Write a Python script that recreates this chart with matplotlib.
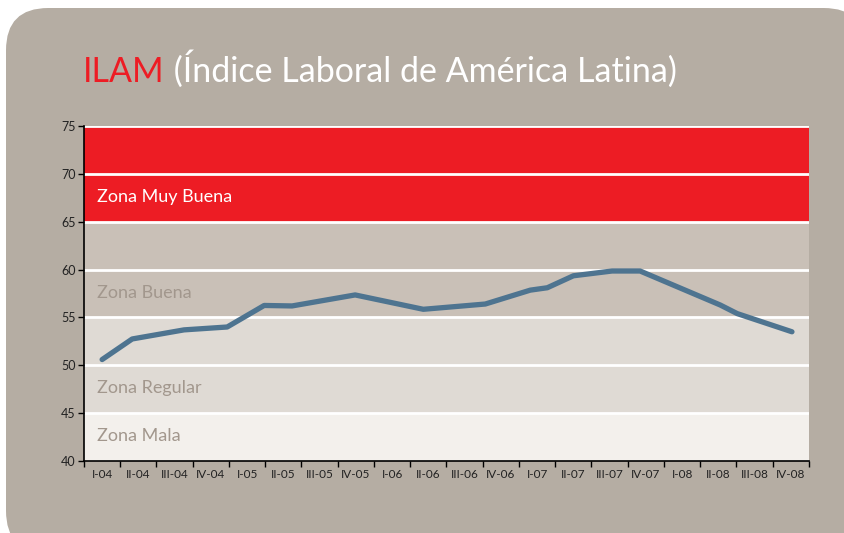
import matplotlib.pyplot as plt
from matplotlib.patches import FancyBboxPatch

# quarters shown on the x axis
quarters = ['I-04', 'II-04', 'III-04', 'IV-04', 'I-05', 'II-05', 'III-05', 'IV-05',
            'I-06', 'II-06', 'III-06', 'IV-06', 'I-07', 'II-07', 'III-07', 'IV-07',
            'I-08', 'II-08', 'III-08', 'IV-08']

# ILAM line, position in quarter units (0 = I-04) and index value
ilam_pos = [0.0, 0.83, 2.26, 3.45, 4.47, 5.24, 6.98, 8.86, 10.57, 11.81,
            12.28, 13.0, 14.07, 14.84, 17.05, 17.52, 19.03]
ilam_val = [50.6, 52.75, 53.7, 54.0, 56.25, 56.2, 57.35, 55.85, 56.4, 57.85,
            58.1, 59.35, 59.85, 59.85, 56.3, 55.4, 53.5]

# zones (lower, upper, colour, label, label colour)
zone_lo = [40, 45, 55, 65]
zone_hi = [45, 55, 65, 75]
zone_col = ['#f3f0ec', '#dfdad4', '#c9c0b7', '#ed1c24']
zone_lab = ['Zona Mala', 'Zona Regular', 'Zona Buena', 'Zona Muy Buena']
zone_lab_y = [42.6, 47.6, 57.6, 67.6]
zone_lab_col = ['#a2978d', '#a2978d', '#a2978d', 'white']

fig = plt.figure(figsize=(8.45, 5.33), dpi=100)
fig.patch.set_facecolor('white')

box = FancyBboxPatch((6 / 845, -20 / 533), 860 / 845, 545 / 533,
                     boxstyle='round,pad=0,rounding_size=0.05',
                     transform=fig.transFigure, facecolor='#b5ada3',
                     edgecolor='none', mutation_aspect=845 / 533, zorder=-10)
fig.patches.append(box)

title_y = 1 - 82 / 533
t1 = fig.text(83 / 845, title_y, 'ILAM', color='#ed1c24', fontsize=24.5,
              family='Lato', va='baseline')
fig.canvas.draw()
bb = t1.get_window_extent()
fig.text(bb.x1 / fig.bbox.width, title_y, ' (Índice Laboral de América Latina)',
         color='white', fontsize=24.5, family='Lato', va='baseline')

ax = fig.add_axes([84 / 845, 1 - 461 / 533, 725 / 845, 335 / 533])
ax.set_xlim(-0.5, len(quarters) - 0.5)
ax.set_ylim(40, 75)

for lo, hi, c in zip(zone_lo, zone_hi, zone_col):
    ax.axhspan(lo, hi, color=c, lw=0, zorder=0)
for y in range(45, 76, 5):
    ax.axhline(y, color='white', lw=2, zorder=1)
for lab, y, c in zip(zone_lab, zone_lab_y, zone_lab_col):
    ax.text(-0.14, y, lab, color=c, fontsize=13, family='Lato', va='center',
            ha='left', zorder=2)

ax.plot(ilam_pos, ilam_val, color='#4e7490', lw=3.8, solid_capstyle='round',
        solid_joinstyle='round', zorder=3)

ax.set_xticks(range(len(quarters)))
ax.set_xticklabels(quarters, fontsize=8.5, family='Lato', color='#222222')
ax.set_xticks([i - 0.5 for i in range(len(quarters) + 1)], minor=True)
ax.tick_params(axis='x', which='major', length=0, pad=6)
ax.tick_params(axis='x', which='minor', length=4, width=1, color='black')
ax.set_yticks(range(40, 76, 5))
ax.tick_params(axis='y', length=4, width=1, labelsize=9, pad=2, labelcolor='#222222')
for lab in ax.get_yticklabels():
    lab.set_family('Lato')

for s in ['top', 'right']:
    ax.spines[s].set_visible(False)
ax.spines['left'].set_linewidth(1.2)
ax.spines['bottom'].set_linewidth(1.2)

fig.savefig('out.png', dpi=100, facecolor='white')
